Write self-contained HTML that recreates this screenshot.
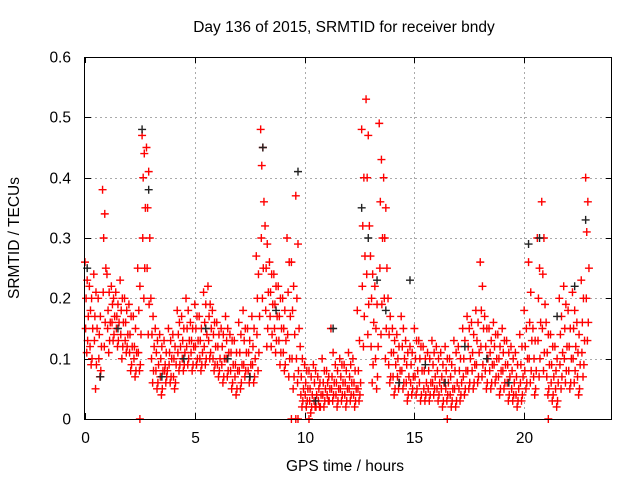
<!DOCTYPE html>
<html><head><meta charset="utf-8"><style>
body{margin:0;background:#fff}
svg text{font-family:"Liberation Sans",sans-serif;font-size:15.5px;fill:#000}
</style></head><body>
<svg id="chart" width="640" height="480" viewBox="0 0 640 480">
<text x="344" y="32" text-anchor="middle">Day 136 of 2015, SRMTID for receiver bndy</text>
<text x="345" y="471" text-anchor="middle">GPS time / hours</text>
<text transform="translate(19,238) rotate(-90)" text-anchor="middle">SRMTID / TECUs</text>
<g id="grid"></g><g id="ticks"></g><g id="marks"></g>
<rect x="84.5" y="57.5" width="527" height="362" fill="none" stroke="#000" stroke-width="1"/>
</svg>
<script>
const xTicks=[0,5,10,15,20];
const yTicks=[0,0.1,0.2,0.3,0.4,0.5,0.6];
const yTickLabels=["0","0.1","0.2","0.3","0.4","0.5","0.6"];
const times=[0.0,0.2,0.4,0.6,0.8,1.0,1.2,1.4,1.6,1.8,2.0,2.2,2.4,2.6,2.8,3.0,3.2,3.4,3.6,3.8,4.0,4.2,4.4,4.6,4.8,5.0,5.2,5.4,5.6,5.8,6.0,6.2,6.4,6.6,6.8,7.0,7.2,7.4,7.6,7.8,8.0,8.2,8.4,8.6,8.8,9.0,9.2,9.4,9.6,9.8,10.0,10.2,10.4,10.6,10.8,11.0,11.2,11.4,11.6,11.8,12.0,12.2,12.4,12.6,12.8,13.0,13.2,13.4,13.6,13.8,14.0,14.2,14.4,14.6,14.8,15.0,15.2,15.4,15.6,15.8,16.0,16.2,16.4,16.6,16.8,17.0,17.2,17.4,17.6,17.8,18.0,18.2,18.4,18.6,18.8,19.0,19.2,19.4,19.6,19.8,20.0,20.2,20.4,20.6,20.8,21.0,21.2,21.4,21.6,21.8,22.0,22.2,22.4,22.6,22.8];
const seriesA=[.26,.22,.24,.20,.38,.24,.22,.21,.23,.20,.19,.17,.25,.47,.45,.20,.15,.14,.13,.15,.14,.18,.17,.20,.16,.19,.17,.21,.22,.18,.16,.15,.17,.14,.13,.16,.18,.15,.17,.27,.48,.32,.26,.24,.22,.20,.30,.26,.37,.12,.09,.08,.09,.07,.10,.08,.15,.09,.10,.09,.11,.10,.18,.48,.53,.27,.22,.49,.40,.20,.15,.14,.17,.13,.12,.15,.13,.12,.11,.13,.12,.11,.12,.10,.13,.12,.15,.17,.16,.18,.26,.17,.15,.16,.14,.15,.13,.12,.11,.14,.18,.26,.15,.30,.36,.16,.14,.12,.20,.22,.18,.21,.16,.23,.40];
const seriesB=[.20,.18,.17,.14,.30,.18,.19,.17,.18,.16,.14,.12,.18,.40,.35,.14,.11,.10,.09,.11,.10,.14,.13,.15,.13,.15,.13,.16,.17,.14,.12,.12,.13,.11,.09,.11,.13,.11,.12,.20,.42,.25,.21,.19,.17,.15,.21,.18,.20,.07,.06,.05,.06,.05,.06,.06,.07,.06,.07,.06,.07,.06,.08,.32,.40,.20,.15,.36,.30,.14,.11,.10,.12,.09,.09,.10,.10,.08,.08,.09,.08,.07,.08,.07,.08,.08,.10,.12,.11,.13,.18,.12,.11,.12,.10,.11,.09,.08,.07,.09,.12,.16,.10,.20,.24,.11,.09,.08,.14,.15,.12,.15,.11,.16,.31];
const seriesC=[.15,.12,.13,.10,.21,.15,.16,.15,.14,.13,.11,.10,.11,.30,.25,.10,.08,.07,.08,.09,.07,.11,.10,.12,.11,.12,.10,.12,.13,.10,.09,.09,.10,.08,.07,.08,.09,.08,.09,.14,.30,.18,.17,.15,.13,.11,.14,.10,.10,.04,.04,.03,.03,.03,.04,.04,.05,.04,.05,.04,.05,.04,.05,.22,.24,.12,.10,.25,.20,.09,.07,.07,.08,.06,.06,.07,.06,.05,.05,.06,.05,.05,.05,.04,.05,.05,.07,.08,.08,.09,.12,.08,.08,.09,.07,.08,.06,.05,.04,.06,.08,.10,.07,.13,.15,.07,.06,.05,.09,.10,.08,.10,.07,.11,.20];
const seriesD=[.11,.09,.05,.07,.12,.11,.13,.12,.10,.11,.08,.07,.08,.20,.14,.06,.05,.04,.06,.06,.05,.08,.08,.09,.08,.09,.08,.09,.10,.08,.07,.06,.07,.05,.04,.05,.07,.06,.06,.08,.20,.12,.12,.11,.09,.08,.07,.05,.06,.02,.02,.01,.02,.02,.02,.03,.03,.02,.03,.02,.03,.02,.03,.12,.14,.06,.05,.14,.10,.06,.04,.05,.05,.03,.04,.04,.03,.03,.03,.04,.03,.02,.03,.02,.02,.03,.04,.05,.05,.06,.07,.05,.05,.06,.04,.05,.03,.03,.02,.03,.05,.06,.04,.07,.08,.04,.03,.02,.05,.06,.05,.06,.04,.07,.13];
const seriesE=[.23,.20,.21,.17,.34,.21,.20,.19,.20,.18,.17,.15,.22,.44,.41,.17,.13,.12,.11,.13,.12,.16,.15,.18,.15,.17,.15,.19,.19,.16,.14,.14,.15,.13,.11,.14,.15,.13,.15,.24,.45,.29,.24,.22,.20,.18,.26,.22,.29,.10,.08,.07,.08,.06,.08,.07,.11,.08,.09,.08,.09,.08,.13,.40,.47,.24,.19,.43,.35,.17,.13,.12,.15,.11,.11,.13,.12,.10,.10,.11,.10,.09,.10,.09,.11,.10,.13,.15,.14,.16,.22,.15,.13,.14,.12,.13,.11,.10,.09,.12,.15,.21,.13,.25,.30,.14,.12,.10,.17,.19,.15,.18,.14,.20,.36];
const seriesF=[.17,.15,.15,.12,.25,.16,.17,.16,.16,.14,.12,.11,.14,.35,.30,.12,.09,.08,.08,.10,.09,.12,.11,.13,.12,.13,.11,.14,.15,.12,.10,.10,.11,.09,.08,.09,.11,.09,.10,.17,.36,.21,.19,.17,.15,.13,.17,.14,.15,.05,.05,.04,.04,.04,.05,.05,.06,.05,.06,.05,.06,.05,.06,.27,.32,.16,.12,.30,.25,.11,.09,.08,.10,.07,.07,.08,.08,.06,.06,.07,.06,.06,.06,.05,.06,.06,.08,.10,.09,.11,.15,.10,.09,.10,.08,.09,.07,.06,.05,.07,.10,.13,.08,.16,.19,.09,.07,.06,.11,.12,.10,.12,.09,.13,.25];
const seriesG=[.13,.10,.09,.08,.16,.13,.14,.13,.12,.12,.09,.08,.09,.25,.19,.08,.06,.05,.07,.07,.06,.09,.09,.10,.09,.10,.09,.10,.11,.09,.08,.07,.08,.06,.05,.06,.08,.07,.07,.11,.25,.15,.14,.13,.11,.09,.10,.07,.08,.03,.03,.02,.02,.02,.03,.03,.04,.03,.04,.03,.04,.03,.04,.17,.19,.09,.07,.19,.15,.07,.05,.06,.06,.04,.05,.05,.04,.04,.04,.05,.04,.03,.04,.03,.03,.04,.05,.06,.06,.07,.09,.06,.06,.07,.05,.06,.04,.04,.03,.04,.06,.08,.05,.10,.11,.05,.04,.03,.07,.08,.06,.08,.05,.09,.16];
const blackTimes=[0.1,0.7,1.5,2.6,2.9,3.5,4.5,5.5,6.5,7.5,8.1,8.7,9.7,10.5,11.3,12.6,12.9,13.3,13.7,14.3,14.8,15.5,16.4,17.3,18.3,19.3,20.2,20.7,21.5,22.3,22.8];
const blackVals=[.25,.07,.15,.48,.38,.07,.10,.15,.10,.07,.45,.18,.41,.03,.15,.35,.30,.23,.18,.06,.23,.09,.06,.12,.10,.06,.29,.30,.17,.22,.33];
const zeroTimes=[2.5,9.4,9.6,9.7,10.2,16.5,21.1];
const zeroVals=[0,0,0,0,0,0,0];

const X0=85,X1=612,Y0=419,Y1=57;
const xs=t=>X0+(t/24)*(X1-X0);
const ys=v=>Y0-(v/0.6)*(Y0-Y1);
const NS="http://www.w3.org/2000/svg";
const grid=document.getElementById('grid'),ticks=document.getElementById('ticks'),marks=document.getElementById('marks');
function mk(tag,attrs,parent){const e=document.createElementNS(NS,tag);for(const k in attrs)e.setAttribute(k,attrs[k]);parent.appendChild(e);return e;}
xTicks.forEach(t=>{
  const x=Math.round(xs(t))+0.5;
  if(t>0){const g=mk('line',{x1:x,x2:x,y1:Y1,y2:Y0,stroke:'#aaa','stroke-dasharray':'2,3'},grid);
  
  }
  mk('line',{x1:x,x2:x,y1:Y0,y2:Y0-6,stroke:'#000'},ticks);
  mk('line',{x1:x,x2:x,y1:Y1,y2:Y1+6,stroke:'#000'},ticks);
  const l=mk('text',{x:x,y:443,'text-anchor':'middle'},ticks);l.textContent=String(t);
  
  
});
yTicks.forEach((v,i)=>{
  const y=Math.round(ys(v))+0.5;
  if(v>0&&v<0.6){const g=mk('line',{x1:X0,x2:X1,y1:y,y2:y,stroke:'#aaa','stroke-dasharray':'2,3'},grid);
  
  }
  mk('line',{x1:X0,x2:X0+6,y1:y,y2:y,stroke:'#000'},ticks);
  mk('line',{x1:X1,x2:X1-6,y1:y,y2:y,stroke:'#000'},ticks);
  const l=mk('text',{x:71,y:y+5,'text-anchor':'end'},ticks);l.textContent=yTickLabels[i];
  
  
});
function plus(t,v,color,name){
  const x=xs(t),y=ys(v);
  const p=mk('path',{d:`M${x-4},${y}H${x+4}M${x},${y-4}V${y+4}`,stroke:color,'stroke-width':1.4,fill:'none'},marks);
  
  
}
const offsets=[0,0.1,0.05,0.15,0.03,0.12,0.08];
[seriesA,seriesE,seriesB,seriesF,seriesC,seriesG,seriesD].forEach((s,k)=>{
  s.forEach((v,i)=>plus(times[i]+offsets[k],v,'#ff0000','srmtid-point'));
});
blackTimes.forEach((t,i)=>plus(t,blackVals[i],'#222','srmtid-point-black'));
zeroTimes.forEach((t,i)=>plus(t,zeroVals[i],'#ff0000','srmtid-zero-point'));
</script>
</body></html>
